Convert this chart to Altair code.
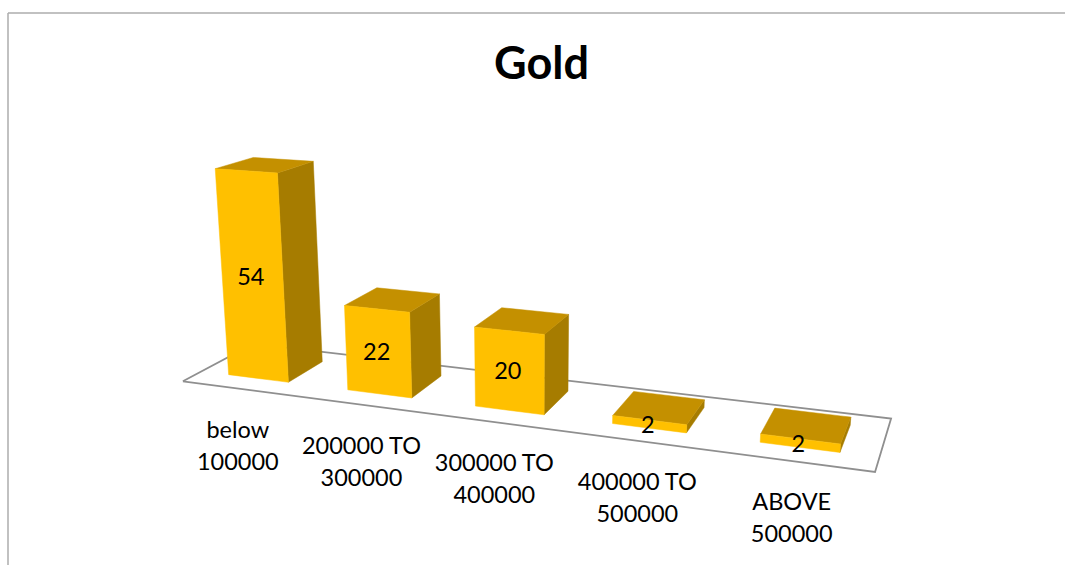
import altair as alt
import numpy as np
import pandas as pd

# Chart content
categories = ["below\n100000", "200000 TO\n300000", "300000 TO\n400000", "400000 TO\n500000", "ABOVE\n500000"]
values = [54, 22, 20, 2, 2]
title_text = "Gold"

# Shades of the three visible box faces
face_names = ["side", "top", "front"]
face_colors = ["#A67C00", "#C49000", "#FFC000"]

# Camera of the 3D scene: (slot, value, depth) -> canvas position
CAMERA = np.array([
    [107.55806727, -0.41942218, 48.1998499, 228.66046492],
    [2.17658152, -3.94756252, -3.45211007, 374.65554812],
    [-0.03331164, -0.0007929, 0.04636719, 1.0],
])
BAR_WIDTH = 0.51
FLOOR_SLOTS = (-0.235, 4.755)
FLOOR_DEPTHS = (-0.48, 1.43)
WIDTH, HEIGHT = 1065, 565


def project(slot, value, depth):
    u, v, w = CAMERA @ np.array([slot, value, depth, 1.0])
    return u / w, v / w


def polygon_rows(points, face, shade):
    """Turn a convex polygon into upper and lower edges for an area mark."""
    pts = np.array(points)
    rows = []
    for x in sorted(set(np.round(pts[:, 0], 3))):
        hits = []
        for k in range(len(pts)):
            (x0, y0), (x1, y1) = pts[k], pts[(k + 1) % len(pts)]
            lo, hi = min(x0, x1) - 0.001, max(x0, x1) + 0.001
            if lo <= x <= hi:
                hits.append(y0 if abs(x1 - x0) < 1e-6 else y0 + (y1 - y0) * (x - x0) / (x1 - x0))
                if abs(x1 - x0) < 1e-6:
                    hits.append(y1)
        rows.append({"x": x, "y": min(hits), "y2": max(hits), "face": face, "shade": shade})
    return rows


face_rows = []
for i, value in enumerate(values):
    a0, a1 = i, i + BAR_WIDTH
    side = [project(a1, value, 0), project(a1, value, 1), project(a1, 0, 1), project(a1, 0, 0)]
    top = [project(a0, value, 0), project(a0, value, 1), project(a1, value, 1), project(a1, value, 0)]
    front = [project(a0, value, 0), project(a1, value, 0), project(a1, 0, 0), project(a0, 0, 0)]
    face_rows += polygon_rows(side, f"{i}-side", "side")
    face_rows += polygon_rows(top, f"{i}-top", "top")
    face_rows += polygon_rows(front, f"{i}-front", "front")
faces = pd.DataFrame(face_rows)

floor_corners = [
    (FLOOR_SLOTS[0], FLOOR_DEPTHS[0]), (FLOOR_SLOTS[1], FLOOR_DEPTHS[0]),
    (FLOOR_SLOTS[1], FLOOR_DEPTHS[1]), (FLOOR_SLOTS[0], FLOOR_DEPTHS[1]),
    (FLOOR_SLOTS[0], FLOOR_DEPTHS[0]),
]
floor = pd.DataFrame(
    [dict(zip("xy", project(s, 0, d)), step=n) for n, (s, d) in enumerate(floor_corners)]
)

value_labels = pd.DataFrame(
    [dict(zip("xy", project(i + BAR_WIDTH / 2, v / 2, 0)), text=str(v)) for i, v in enumerate(values)]
)
category_labels = pd.DataFrame(
    [dict(zip("xy", project(i + BAR_WIDTH / 2, 0, -0.52)), text=c) for i, c in enumerate(categories)]
)

x_scale = alt.Scale(domain=[0, WIDTH], range=[0, WIDTH], nice=False, zero=False)
y_scale = alt.Scale(domain=[0, HEIGHT], range=[0, HEIGHT], nice=False, zero=False)
X = alt.X("x:Q", scale=x_scale, axis=None)
Y = alt.Y("y:Q", scale=y_scale, axis=None)
shade_scale = alt.Scale(domain=face_names, range=face_colors)

frame_left = alt.Chart(pd.DataFrame({"k": [0]})).mark_rule(color="#ADADAD", strokeWidth=1.5).encode(
    x=alt.value(8), y=alt.value(13), y2=alt.value(HEIGHT)
)
frame_top = alt.Chart(pd.DataFrame({"k": [0]})).mark_rule(color="#ADADAD", strokeWidth=1.5).encode(
    x=alt.value(8), x2=alt.value(WIDTH), y=alt.value(13)
)

floor_line = alt.Chart(floor).mark_line(color="#8F8F8F", strokeWidth=1.8, strokeJoin="miter").encode(
    x=X, y=Y, order="step:Q"
)

boxes = alt.Chart(faces).mark_area(orient="vertical", strokeWidth=0.5, interpolate="linear").encode(
    x=X,
    y=Y,
    y2="y2:Q",
    detail="face:N",
    fill=alt.Fill("shade:N", scale=shade_scale, legend=None),
    stroke=alt.Stroke("shade:N", scale=shade_scale, legend=None),
)

value_text = alt.Chart(value_labels).mark_text(
    font="Lato", fontSize=23.5, color="#000000", align="center", baseline="middle", dx=-1.5, dy=1.5
).encode(x=X, y=Y, text="text:N")

category_text = alt.Chart(category_labels).mark_text(
    font="Lato", fontSize=23.5, color="#000000", align="center", baseline="middle",
    lineBreak="\n", lineHeight=32, dx=-1, dy=41,
).encode(x=X, y=Y, text="text:N")

title_mark = alt.Chart(pd.DataFrame({"text": [title_text]})).mark_text(
    font="Lato", fontSize=45, fontWeight="bold", color="#000000", align="center", baseline="middle"
).encode(x=alt.value(541.5), y=alt.value(65), text="text:N")

chart = alt.layer(
    frame_left, frame_top, floor_line, boxes, value_text, category_text, title_mark
).properties(
    width=WIDTH, height=HEIGHT, padding=0, background="#FFFFFF",
    autosize=alt.AutoSizeParams(type="none"),
).configure_view(stroke=None)

chart.save("out.html", embed_options={"renderer": "svg", "actions": False})
